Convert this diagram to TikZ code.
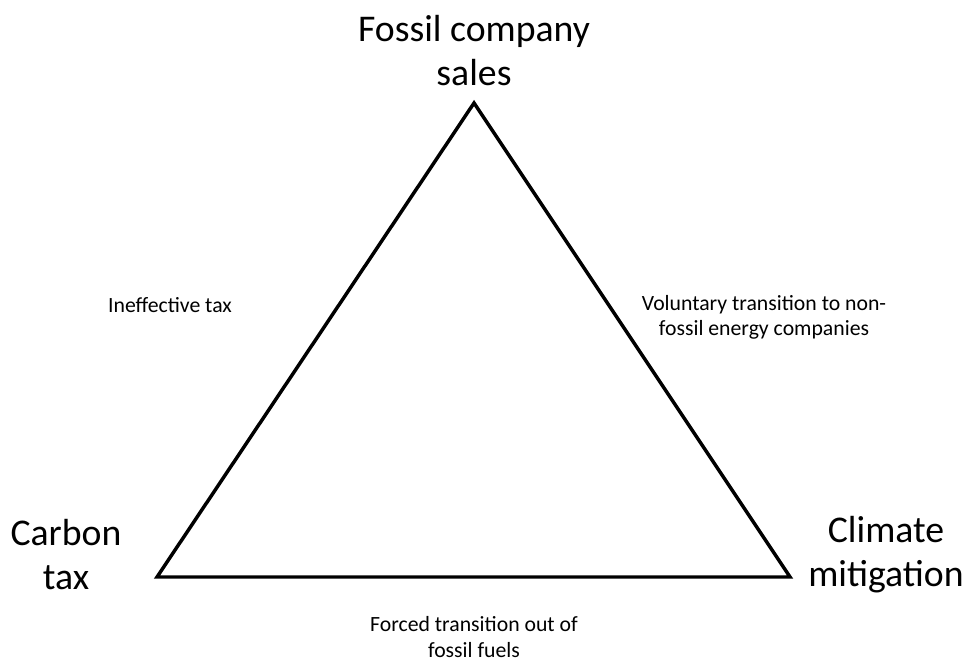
\documentclass[tikz,border=0pt]{standalone}
\usepackage{fontspec}
\setmainfont{Carlito}

\begin{document}
\begin{tikzpicture}[x=0.75pt, y=-0.75pt, line join=miter,
        corner/.style={align=center, font=\fontsize{28.3}{33}\selectfont},
        side/.style={align=center, inner sep=0pt, font=\fontsize{16.3}{19}\selectfont}]
        \useasboundingbox (0,0) rectangle (966,664);
        \coordinate (top) at (474,103); \coordinate (left) at (157,577); \coordinate (right) at (790,577);
        \draw [line width=2.6pt] (top)--(right)--(left)--cycle;
        \node[corner] (sales) at (474,51) {Fossil company\\sales};
        \node[corner] (tax) at (66,555) {Carbon\\tax};
        \node[corner] (mitig) at (886,555) {Climate\\mitigation};
        \node[side] (ineff) at (170,305) {Ineffective tax};
        \node[side] (volun) at (764,317) {Voluntary transition to non-\\fossil energy companies};
        \node[side] (forced) at (474,637) {Forced transition out of\\fossil fuels};
    \end{tikzpicture}
\end{document}
